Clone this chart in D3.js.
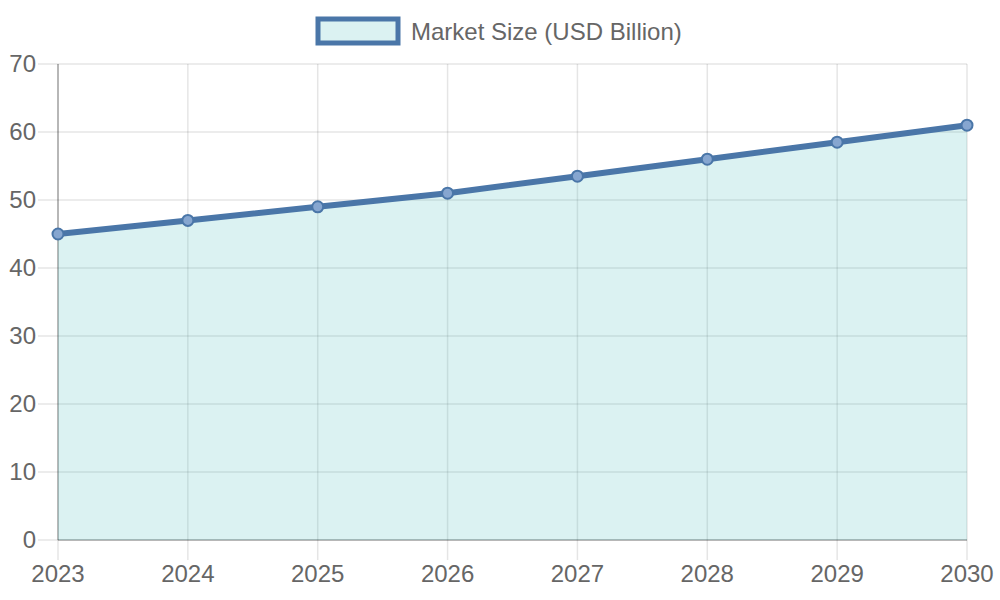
<!DOCTYPE html>
<html>
<head>
<meta charset="utf-8">
<script src="https://cdn.jsdelivr.net/npm/d3@7"></script>
<style>
body { margin: 0; background: #fff; }
svg { display: block; font-family: "Liberation Sans", Arial, sans-serif; }
</style>
</head>
<body>
<svg id="chart" width="1000" height="600"></svg>
<script>
// data
var years = ["2023", "2024", "2025", "2026", "2027", "2028", "2029", "2030"];
var marketSize = [45, 47, 49, 51, 53.5, 56, 58.5, 61];
var yTicks = [0, 10, 20, 30, 40, 50, 60, 70];
var seriesName = "Market Size (USD Billion)";

var lineColor = "#4a76a8";
var fillColor = "rgba(75,192,192,0.2)";
var gridColor = "rgba(0,0,0,0.1)";
var textColor = "#666";

var margin = {top: 64, right: 33, bottom: 60, left: 58},
	width = 1000 - margin.left - margin.right,
	height = 600 - margin.top - margin.bottom;

var svg = d3.select("#chart");
var g = svg.append("g")
	.attr("transform", "translate(" + margin.left + "," + margin.top + ")");

var xScale = d3.scalePoint()
	.domain(years)
	.range([0, width]);

var yScale = d3.scaleLinear()
	.domain([0, 70])
	.range([height, 0]);

// horizontal grid lines (with tick stubs to the left)
g.append("g").selectAll("line")
	.data(yTicks)
	.enter().append("line")
	.attr("x1", -20)
	.attr("x2", width)
	.attr("y1", function(d) { return yScale(d); })
	.attr("y2", function(d) { return yScale(d); })
	.attr("stroke", gridColor)
	.attr("stroke-width", 1.5);

// vertical grid lines (with tick stubs below)
g.append("g").selectAll("line")
	.data(years)
	.enter().append("line")
	.attr("x1", function(d) { return xScale(d); })
	.attr("x2", function(d) { return xScale(d); })
	.attr("y1", 0)
	.attr("y2", height + 20)
	.attr("stroke", gridColor)
	.attr("stroke-width", 1.5);

// axis lines
g.append("line")
	.attr("x1", 0).attr("x2", 0)
	.attr("y1", 0).attr("y2", height)
	.attr("stroke", "rgba(0,0,0,0.3)")
	.attr("stroke-width", 1.5);
g.append("line")
	.attr("x1", 0).attr("x2", width)
	.attr("y1", height).attr("y2", height)
	.attr("stroke", "rgba(0,0,0,0.3)")
	.attr("stroke-width", 1.5);

// y labels
g.append("g").selectAll("text")
	.data(yTicks)
	.enter().append("text")
	.attr("x", -22)
	.attr("y", function(d) { return yScale(d); })
	.attr("dy", "0.35em")
	.attr("text-anchor", "end")
	.attr("fill", textColor)
	.attr("font-size", "24px")
	.text(function(d) { return d; });

// x labels
g.append("g").selectAll("text")
	.data(years)
	.enter().append("text")
	.attr("x", function(d) { return xScale(d); })
	.attr("y", height + 42)
	.attr("text-anchor", "middle")
	.attr("fill", textColor)
	.attr("font-size", "24px")
	.text(function(d) { return d; });

var pts = years.map(function(y, i) { return {year: y, value: marketSize[i]}; });

var area = d3.area()
	.x(function(d) { return xScale(d.year); })
	.y0(height)
	.y1(function(d) { return yScale(d.value); });

var line = d3.line()
	.x(function(d) { return xScale(d.year); })
	.y(function(d) { return yScale(d.value); });

g.append("path")
	.datum(pts)
	.attr("d", area)
	.attr("fill", fillColor);

g.append("path")
	.datum(pts)
	.attr("d", line)
	.attr("fill", "none")
	.attr("stroke", lineColor)
	.attr("stroke-width", 6)
	.attr("stroke-linejoin", "round");

g.append("g").selectAll("circle")
	.data(pts)
	.enter().append("circle")
	.attr("cx", function(d) { return xScale(d.year); })
	.attr("cy", function(d) { return yScale(d.value); })
	.attr("r", 5.5)
	.attr("fill", "#86a6d0")
	.attr("stroke", lineColor)
	.attr("stroke-width", 2);

// legend
var legend = svg.append("g");
legend.append("rect")
	.attr("x", 318)
	.attr("y", 19)
	.attr("width", 80)
	.attr("height", 24)
	.attr("fill", "#dbf2f2")
	.attr("stroke", lineColor)
	.attr("stroke-width", 5);
legend.append("text")
	.attr("x", 411)
	.attr("y", 32)
	.attr("dy", "0.35em")
	.attr("fill", textColor)
	.attr("font-size", "24px")
	.text(seriesName);
</script>
</body>
</html>
